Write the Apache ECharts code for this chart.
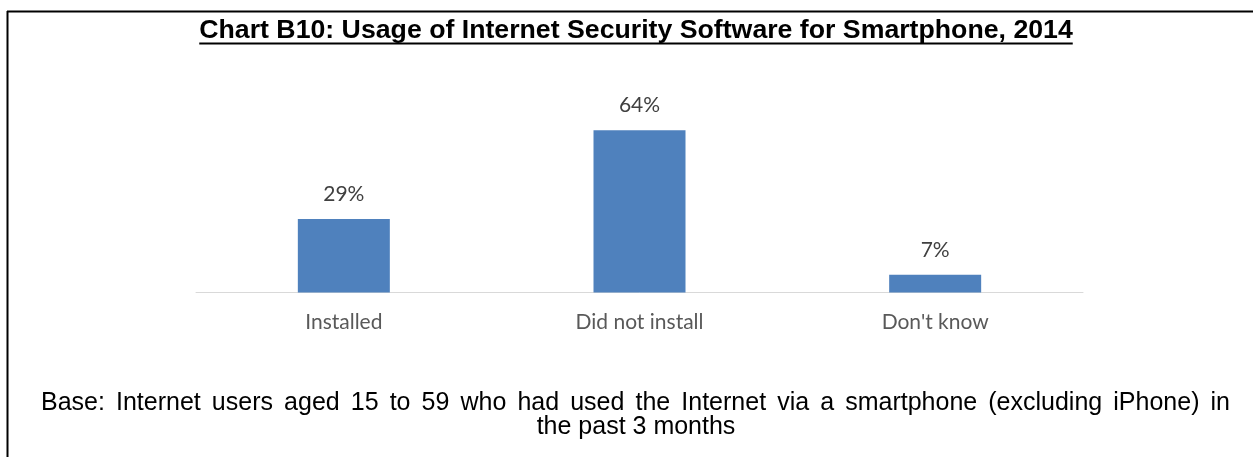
<!DOCTYPE html>
<html>
<head>
<meta charset="utf-8">
<script src="https://cdn.jsdelivr.net/npm/echarts@6/dist/echarts.min.js"></script>
<style>
  html, body { margin: 0; padding: 0; background: #fff; }
  #chart { width: 1253px; height: 457px; }
</style>
</head>
<body>
<div id="chart"></div>
<script>
// Chart B10 data
const categories = ['Installed', 'Did not install', "Don't know"];
const usageShare = [29, 64, 7];
const chartTitle = 'Chart B10: Usage of Internet Security Software for Smartphone, 2014';
const baseNoteLines = [
  'Base: Internet users aged 15 to 59 who had used the Internet via a smartphone (excluding iPhone) in',
  'the past 3 months'
];

const W = 1253, H = 457;
const titleFont = 'bold 26.7px "Liberation Sans", Arial, sans-serif';
const noteFont = '25px "Liberation Sans", Arial, sans-serif';
const labelFont = 'Lato, "Open Sans", sans-serif';

const measureCtx = document.createElement('canvas').getContext('2d');
function measure(font, text) {
  measureCtx.font = font;
  return measureCtx.measureText(text).width;
}

// Justified first line of the base note: words spread between the two margins
function justifiedLine(text, font, left, right, y) {
  const words = text.split(' ');
  const widths = words.map(w => measure(font, w));
  const total = widths.reduce((a, b) => a + b, 0);
  const gap = (right - left - total) / (words.length - 1);
  const els = [];
  let x = left;
  words.forEach((w, i) => {
    els.push({
      type: 'text', x: x, y: y,
      style: { text: w, font: font, fill: '#000', align: 'left', verticalAlign: 'middle' }
    });
    x += widths[i] + gap;
  });
  return els;
}

const chart = echarts.init(document.getElementById('chart'), null, { renderer: 'canvas' });

const titleX = 636, titleY = 31;
const titleW = measure(titleFont, chartTitle);

chart.setOption({
  backgroundColor: '#ffffff',
  animation: false,
  grid: { left: 196, right: 170, top: 115, bottom: 164.5, containLabel: false },
  xAxis: {
    type: 'category',
    data: categories,
    axisLine: { show: true, lineStyle: { color: '#D9D9D9', width: 1 } },
    axisTick: { show: false },
    axisLabel: {
      color: '#595959',
      fontFamily: labelFont,
      fontSize: 21,
      margin: 19
    }
  },
  yAxis: {
    type: 'value',
    min: 0,
    max: 70,
    show: false,
    splitLine: { show: false }
  },
  series: [{
    type: 'bar',
    data: usageShare,
    barWidth: 92,
    itemStyle: { color: '#4F81BD' },
    label: {
      show: true,
      position: 'top',
      distance: 14,
      color: '#404040',
      fontFamily: labelFont,
      fontSize: 21,
      formatter: p => p.value + '%'
    }
  }],
  graphic: [
    // frame: left and top edges
    { type: 'line', shape: { x1: 7.5, y1: 11, x2: 7.5, y2: H }, style: { stroke: '#000', lineWidth: 2 } },
    { type: 'line', shape: { x1: 7, y1: 11.5, x2: W, y2: 11.5 }, style: { stroke: '#000', lineWidth: 2 } },
    // title with underline
    {
      type: 'text', x: titleX, y: titleY,
      style: {
        text: chartTitle, font: titleFont, fill: '#000',
        align: 'center', verticalAlign: 'middle'
      }
    },
    {
      type: 'line',
      shape: { x1: titleX - titleW / 2, y1: 43.5, x2: titleX + titleW / 2, y2: 43.5 },
      style: { stroke: '#000', lineWidth: 2 }
    },
    // base note: justified first line, centred last line
    ...justifiedLine(baseNoteLines[0], noteFont, 41, 1230, 403),
    {
      type: 'text', x: 636, y: 427,
      style: {
        text: baseNoteLines[1], font: noteFont,
        fill: '#000', align: 'center', verticalAlign: 'middle'
      }
    }
  ]
});
</script>
</body>
</html>
